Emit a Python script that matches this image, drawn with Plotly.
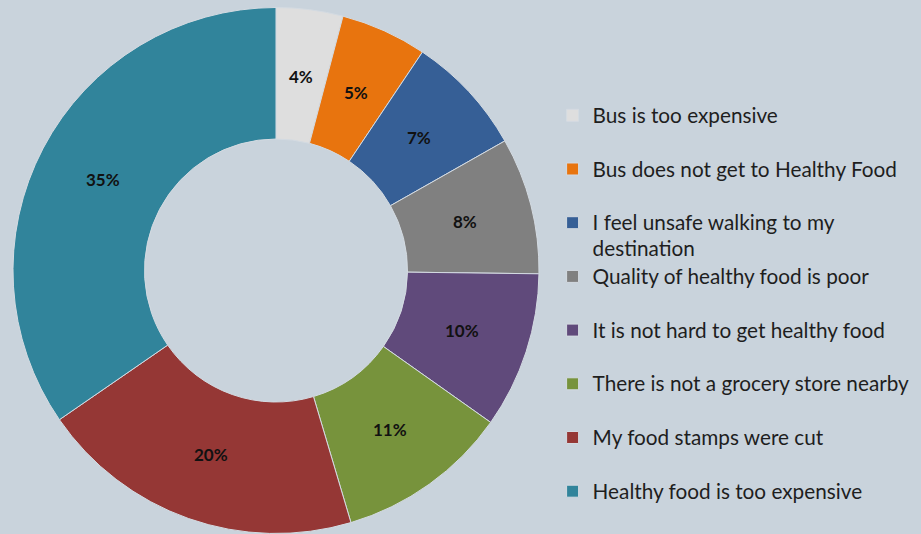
import numpy as np
import plotly.graph_objects as go

labels = [
    "Bus is too expensive",
    "Bus does not get to Healthy Food",
    "I feel unsafe walking to my<br>destination",
    "Quality of healthy food is poor",
    "It is not hard to get healthy food",
    "There is not a grocery store nearby",
    "My food stamps were cut",
    "Healthy food is too expensive",
]
# shares (%); the printed labels are these rounded
values = [4.1, 5.3, 7.4, 8.4, 9.6, 10.6, 20.0, 34.6]
colors = ["#dedede", "#e8740e", "#365f96", "#808080", "#604a7b", "#77933c", "#953735", "#31849b"]

BG = "#c9d3dc"
W, H = 921, 534
DOM_X = [0.01411, 0.58523]
DOM_Y = [0.0009, 0.9860]
HOLE = 0.5


def legend_entry(label):
    # each entry fills two text lines, like the fixed slots of the original legend
    parts = label.split("<br>")
    if len(parts) == 1:
        parts.append(" ")
    return "<br>".join('<span style="font-size:20.75px">%s</span>' % p for p in parts)


legend_text = [legend_entry(l) for l in labels]

fig = go.Figure(
    go.Pie(
        labels=legend_text,
        values=values,
        sort=False,
        direction="clockwise",
        rotation=0,
        hole=HOLE,
        marker=dict(colors=colors, line=dict(color="#d4dbe2", width=1)),
        textinfo="none",
        domain=dict(x=DOM_X, y=DOM_Y),
        hoverinfo="percent",
    )
)

# percentage labels centred in the middle of the ring of each slice
vals = np.array(values, dtype=float)
share = vals / vals.sum()
mid = (np.cumsum(share) - share / 2) * 2 * np.pi  # clockwise from 12 o'clock
cx = (DOM_X[0] + DOM_X[1]) / 2
cy = (DOM_Y[0] + DOM_Y[1]) / 2
radius_px = min((DOM_X[1] - DOM_X[0]) * W, (DOM_Y[1] - DOM_Y[0]) * H) / 2
r_mid = radius_px * (1 + HOLE) / 2 * 0.99
for s, a in zip(share, mid):
    fig.add_annotation(
        x=cx + r_mid * np.sin(a) / W,
        y=cy + r_mid * np.cos(a) / H,
        xref="paper",
        yref="paper",
        text="%d%%" % round(s * 100),
        showarrow=False,
        xanchor="center",
        yanchor="middle",
        font=dict(family="Lato", size=17, color="#111111", weight="bold"),
    )

fig.update_layout(
    width=W,
    height=H,
    paper_bgcolor=BG,
    plot_bgcolor=BG,
    margin=dict(l=0, r=0, t=0, b=0, autoexpand=False),
    showlegend=True,
    legend=dict(
        x=0.600,
        xanchor="left",
        y=0.82,
        yanchor="top",
        valign="top",
        bgcolor="rgba(0,0,0,0)",
        font=dict(family="Lato", size=19.5, color="#1e1e1e"),
    ),
)

fig.write_html(
    "out.html",
    config={"displayModeBar": False},
    post_script="document.body.style.margin='0';document.body.style.background='%s';" % BG,
)
